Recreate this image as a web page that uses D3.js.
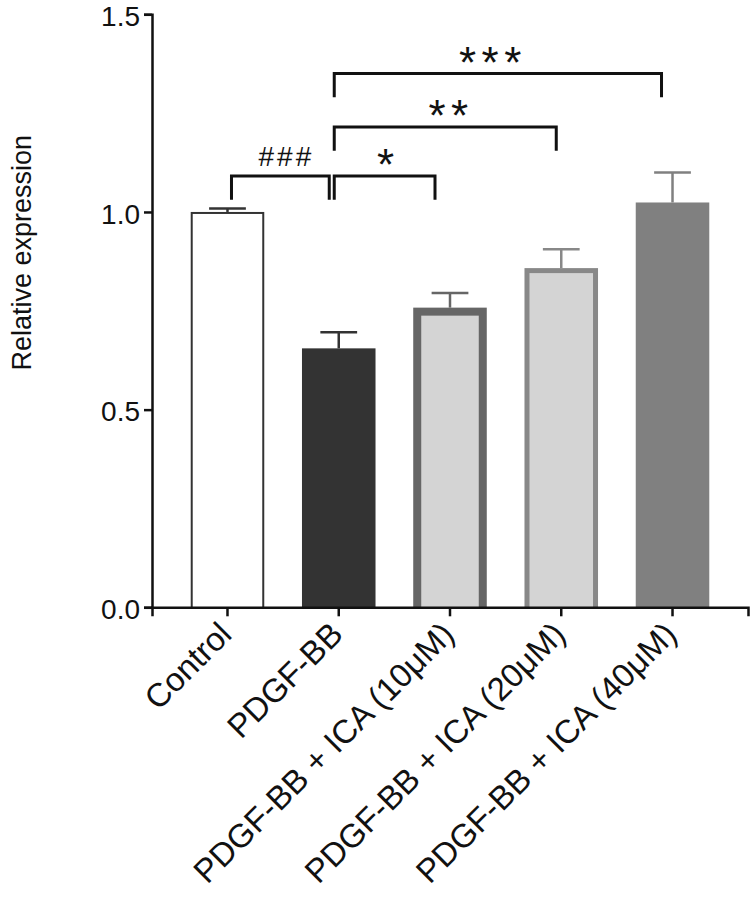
<!DOCTYPE html>
<html>
<head>
<meta charset="utf-8">
<script src="https://cdn.jsdelivr.net/npm/d3@7"></script>
<style>
  html, body { margin: 0; padding: 0; background: #fff; }
  svg { display: block; }
  text { font-family: Arial, "Liberation Sans", Helvetica, sans-serif; }
</style>
</head>
<body>
<div id="chart"></div>
<script>
// ---- data ----
const categories = ["Control", "PDGF-BB", "PDGF-BB + ICA (10μM)", "PDGF-BB + ICA (20μM)", "PDGF-BB + ICA (40μM)"];
const means = [1.0, 0.655, 0.758, 0.858, 1.024];
const sems = [0.009, 0.041, 0.037, 0.048, 0.076];
const yTicks = [0, 0.5, 1.0, 1.5];
const yLabel = "Relative expression";
const compFrom = [0, 1, 1, 1];
const compTo = [1, 2, 3, 4];
const compLabels = ["###", "*", "**", "***"];
const compLevels = [1.091, 1.091, 1.215, 1.350];

// ---- styles ----
const barFill = ["#ffffff", "#333333", "#d4d4d4", "#d4d4d4", "#808080"];
const barStroke = ["#333333", "#333333", "#666666", "#888888", "#808080"];
const barStrokeW = [2, 0, 8, 5, 0];
const errColor = ["#333333", "#333333", "#666666", "#888888", "#808080"];
const bracketInset = [[4, -9.5], [-4.5, -15], [-4.5, -5], [-4.5, -11]];
const labelDx = [4.5, 1, 3, -7.7];

const W = 750, H = 898;
const svg = d3.select("#chart").append("svg").attr("width", W).attr("height", H);

const y = d3.scaleLinear().domain([0, 1.5]).range([607.3, 14.3]);
const x = d3.scaleBand().domain(categories).range([152, 748]).paddingInner(0.339).paddingOuter(0.348);
const bw = x.bandwidth();
const cx = i => x(categories[i]) + bw / 2;

// bars
const g = svg.append("g");
categories.forEach((c, i) => {
  const sw = barStrokeW[i];
  const x0 = x(c), yTop = y(means[i]), yBase = y(0);
  if (sw > 0) {
    g.append("rect").attr("x", x0).attr("y", yTop).attr("width", bw).attr("height", yBase - yTop).attr("fill", barStroke[i]);
    g.append("rect").attr("x", x0 + sw).attr("y", yTop + sw).attr("width", bw - 2 * sw).attr("height", Math.max(0, yBase - yTop - sw)).attr("fill", barFill[i]);
  } else {
    g.append("rect").attr("x", x0).attr("y", yTop).attr("width", bw).attr("height", yBase - yTop).attr("fill", barFill[i]);
  }
  const ye = y(means[i] + sems[i]);
  g.append("line").attr("x1", cx(i)).attr("x2", cx(i)).attr("y1", yTop).attr("y2", ye)
    .attr("stroke", errColor[i]).attr("stroke-width", 2.5);
  g.append("line").attr("x1", cx(i) - bw / 4).attr("x2", cx(i) + bw / 4).attr("y1", ye).attr("y2", ye)
    .attr("stroke", errColor[i]).attr("stroke-width", 2.5);
});

// axes
const yAxis = d3.axisLeft(y).tickValues(yTicks).tickFormat(d3.format(".1f")).tickSizeOuter(0).tickSize(8).tickPadding(4);
const ya = svg.append("g").attr("transform", "translate(152,0)").call(yAxis);
ya.select(".domain").attr("stroke", "#111").attr("stroke-width", 2.5);
ya.selectAll(".tick line").attr("stroke", "#111").attr("stroke-width", 2.5);
ya.selectAll(".tick text").attr("font-size", 28).attr("dy", "0.4em").attr("fill", "#111")
  .attr("font-family", "Arial, 'Liberation Sans', sans-serif");

const xAxis = d3.axisBottom(x).tickSizeOuter(0).tickSize(9).tickFormat("");
const xa = svg.append("g").attr("transform", `translate(0,${y(0)})`).call(xAxis);
xa.select(".domain").attr("stroke", "#111").attr("stroke-width", 2.5);
xa.selectAll(".tick line").attr("stroke", "#111").attr("stroke-width", 2.5);

// x labels rotated
categories.forEach((c, i) => {
  svg.append("text")
    .attr("transform", `translate(${cx(i) + 6},${y(0) + 29}) rotate(-45)`)
    .attr("text-anchor", "end")
    .attr("font-size", 33)
    .attr("fill", "#111")
    .text(c);
});

// y label
svg.append("text")
  .attr("transform", `translate(31,${(y(0) + y(1.5)) / 2 - 58}) rotate(-90)`)
  .attr("text-anchor", "middle")
  .attr("font-size", 27)
  .attr("fill", "#111")
  .text(yLabel);

// significance brackets
const drop = y(0) - y(0.06);
compLabels.forEach((lab, k) => {
  const xl = cx(compFrom[k]) + bracketInset[k][0];
  const xr = cx(compTo[k]) + bracketInset[k][1];
  const yl = y(compLevels[k]);
  svg.append("path")
    .attr("d", `M${xl},${yl + drop}V${yl}H${xr}V${yl + drop}`)
    .attr("fill", "none").attr("stroke", "#111").attr("stroke-width", 3);
  const isHash = lab[0] === "#";
  const ls = isHash ? 3 : 5.5;
  svg.append("text")
    .attr("x", (xl + xr) / 2 + ls / 2 + labelDx[k])
    .attr("y", isHash ? yl - 10 : yl + 4)
    .attr("text-anchor", "middle")
    .attr("font-size", isHash ? 28 : 44)
    .attr("letter-spacing", ls)
    .attr("fill", "#111")
    .text(lab);
});
</script>
</body>
</html>
